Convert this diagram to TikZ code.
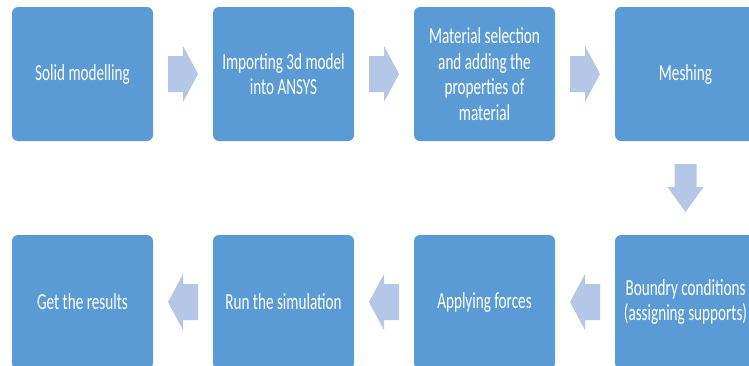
\documentclass[tikz,border=0pt]{standalone}
\usepackage{fontspec}
\usepackage{tikz}
\usetikzlibrary{calc}
\newfontfamily\boxfont[FakeStretch=0.66]{Carlito}
\definecolor{stepblue}{HTML}{5B9BD5}
\definecolor{arrowblue}{HTML}{B4C7E7}
\tikzset{
    stepbox/.style={
           rectangle,
           rounded corners=6pt,
           fill=stepblue,
           draw=none,
           minimum width=141pt,
           minimum height=134pt,
           inner sep=2pt,
           text width=136pt,
           align=flush center,
           text=white,
           font=\boxfont\fontsize{23}{25.5}\selectfont,
           },
    sidearrow/.pic={
           \fill[arrowblue] (-15,-18) -- (0,-18) -- (0,-28) -- (15,0)
              -- (0,28) -- (0,18) -- (-15,18) -- cycle;
           },
    downarrow/.pic={
           \fill[arrowblue] (-11,-24) -- (11,-24) -- (11,-1) -- (18,-1)
              -- (0,24) -- (-18,-1) -- (-11,-1) -- cycle;
           },
}
\begin{document}
\begin{tikzpicture}[x=1pt,y=-1pt]
  \useasboundingbox (0,0) rectangle (749,365);
  \node[stepbox] (solid) at (82.5,74) {Solid modelling};
  \node[stepbox,
 right of=solid,
 node distance=201pt] (import)
 {Importing 3d model\\ into ANSYS};
  \node[stepbox,
 right of=import,
 node distance=201pt] (material)
 {Material selection\\ and adding the\\ properties of\\ material};
  \node[stepbox,
 right of=material,
 node distance=201pt] (meshing)
 {Meshing};
  \node[stepbox,
 below of=meshing,
 node distance=228pt] (boundary)
 {Boundry conditions\\ (assigning supports)};
  \node[stepbox,
 left of=boundary,
 node distance=201pt] (forces)
 {Applying forces};
  \node[stepbox,
 left of=forces,
 node distance=201pt] (simulate)
 {Run the simulation};
  \node[stepbox,
 left of=simulate,
 node distance=201pt] (results)
 {Get the results};
% block arrows between the steps
  \pic at ($(solid.east)!0.5!(import.west)$) {sidearrow};
  \pic at ($(import.east)!0.5!(material.west)$) {sidearrow};
  \pic at ($(material.east)!0.5!(meshing.west)$) {sidearrow};
  \pic at ($(meshing.south)!0.5!(boundary.north)$) {downarrow};
  \pic[rotate=180] at ($(boundary.west)!0.5!(forces.east)$) {sidearrow};
  \pic[rotate=180] at ($(forces.west)!0.5!(simulate.east)$) {sidearrow};
  \pic[rotate=180] at ($(simulate.west)!0.5!(results.east)$) {sidearrow};
\end{tikzpicture}
\end{document}
